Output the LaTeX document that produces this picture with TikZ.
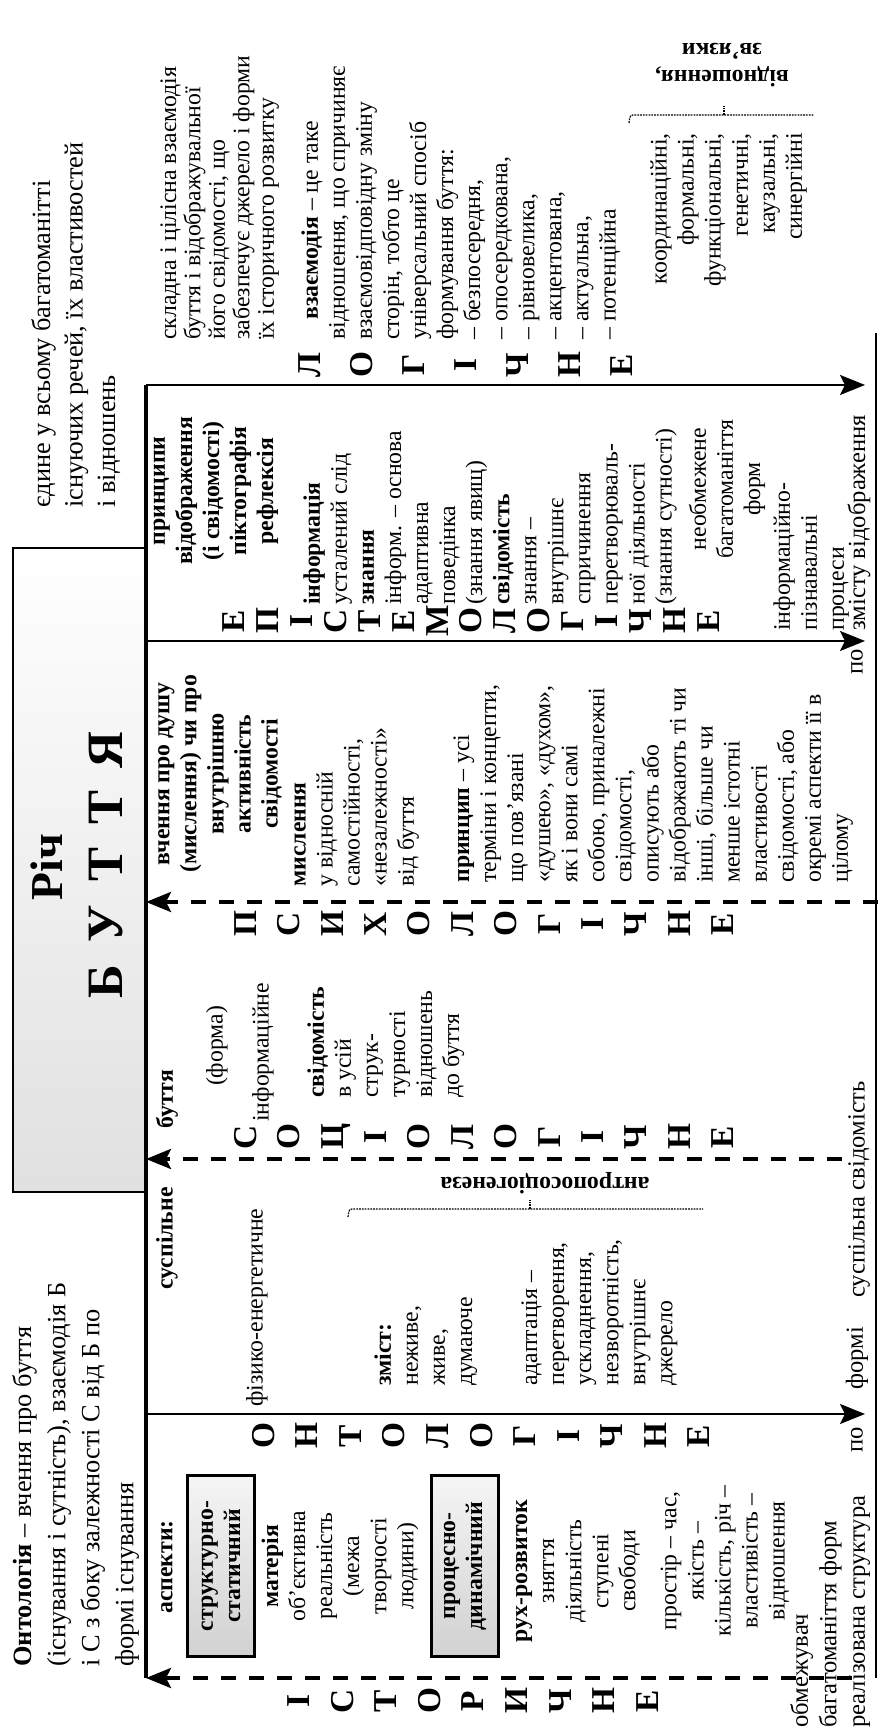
\documentclass[tikz,border=0pt]{standalone}
\usepackage{fontspec}
\setmainfont{Liberation Serif}
\usetikzlibrary{arrows.meta}
\begin{document}
\begin{tikzpicture}[x=0.2mm,y=-0.2mm,rotate=90,transform shape,>={Stealth[length=5mm,width=4mm,inset=1mm]},
tekst/.style={font=\fontsize{13.5}{15.4}\selectfont,inner sep=0pt,align=left},
ctekst/.style={tekst,align=center},
zhyrnyj/.style={tekst,font=\fontsize{13.5}{15.4}\selectfont\bfseries},
nyz/.style={font=\fontsize{14}{16.2}\selectfont,inner sep=0pt,align=left},
velykyj/.style={font=\fontsize{15}{19.4}\selectfont,inner sep=0pt,align=left},
bukvy/.style={font=\fontsize{19}{#1}\selectfont\bfseries,inner sep=0pt,align=center},
aspekt/.style={draw,line width=1.2pt,top color=black!4,bottom color=black!18,minimum width=36.2mm,minimum height=13.4mm,inner sep=1pt,align=center,font=\fontsize{13.5}{15.4}\selectfont\bfseries},
richbox/.style={draw,line width=1.6pt,top color=white,bottom color=black!12,minimum width=128.8mm,minimum height=26.6mm,inner sep=0pt},
punktyr/.style={line width=2.3pt,dash pattern=on 3mm off 2.6mm},
suc/.style={line width=1.2pt},
duga/.style={line width=0.7pt,dash pattern=on 1pt off 0.6pt}]
\useasboundingbox (0,0) rectangle (1729,878);
\node[velykyj,anchor=north west](ontologija) at (62,12){\textbf{Онтологія} – вчення про буття\\(існування і сутність), взаємодія Б\\і С з боку залежності С від Б по\\формі існування};
\node[richbox](rich) at (859,79.5){};
\node[font=\fontsize{26}{28}\selectfont\bfseries](richtxt) at (862,47){Річ};
\node[font=\fontsize{29}{31}\selectfont\bfseries](buttja) at (864,106){Б\hspace{0.45em}У\hspace{0.45em}Т\hspace{0.45em}Т\hspace{0.45em}Я};
\node[velykyj,anchor=north west,font=\fontsize{15}{18.5}\selectfont](jedyne) at (1221,31){єдине у всьому багатоманітті\\існуючих речей, їх властивостей\\і відношень};
\coordinate(d1t) at (51,146);
\coordinate(d1b) at (51,852);
\coordinate(s1t) at (315,146);
\coordinate(s1b) at (315,865);
\coordinate(d2t) at (570,146);
\coordinate(d2b) at (570,842);
\coordinate(d3t) at (827,146);
\coordinate(d3b) at (827,878);
\coordinate(s2t) at (1088,146);
\coordinate(s2b) at (1088,865);
\coordinate(s3t) at (1344,146);
\coordinate(s3b) at (1344,865);
\coordinate(niz1) at (51,876);
\coordinate(niz2) at (1396,876);
\node[bukvy=24.8pt](istorychne) at (28,473){І\\С\\Т\\О\\Р\\И\\Ч\\Н\\Е};
\node[bukvy=24.8pt](ontologichne) at (293,481){О\\Н\\Т\\О\\Л\\О\\Г\\І\\Ч\\Н\\Е};
\node[bukvy=24.7pt](sociologichne) at (592,484){С\\О\\Ц\\І\\О\\Л\\О\\Г\\І\\Ч\\Н\\Е};
\node[bukvy=24.7pt](psyhologichne) at (805,484){П\\С\\И\\Х\\О\\Л\\О\\Г\\І\\Ч\\Н\\Е};
\node[bukvy=19.3pt](epistemologichne) at (1108,471){Е\\П\\І\\С\\Т\\Е\\М\\О\\Л\\О\\Г\\І\\Ч\\Н\\Е};
\node[bukvy=29.6pt](logichne) at (1364,466){Л\\О\\Г\\І\\Ч\\Н\\Е};
\node[zhyrnyj](aspekty) at (162,167){аспекти:};
\node[aspekt](strukturno) at (163,221){структурно-\\статичний};
\node[ctekst](materija) at (163,340){\textbf{матерія}\\об’єктивна\\реальність\\(межа\\творчості\\людини)};
\node[aspekt](procesno) at (163,465){процесно-\\динамічний};
\node[ctekst](ruh) at (158,578){\textbf{рух-розвиток}\\зняття\\діяльність\\ступені\\свободи};
\node[ctekst](prostir) at (168,725){простір – час,\\якість –\\кількість, річ –\\властивість –\\відношення};
\node[nyz,anchor=north west](obmezhuvach) at (1,790){обмежувач\\багатоманіття форм\\реалізована структура};
\node[nyz](po1) at (289,857){по};
\node[nyz,anchor=west](formi) at (339,857){формі};
\node[nyz,anchor=west](suspsvid) at (431,859){суспільна свідомість};
\node[zhyrnyj,anchor=east](suspilne) at (542,167){суспільне};
\node[tekst,anchor=west](fizyko) at (322,257){фізико-енергетичне};
\node[tekst,anchor=north west](zmist) at (343,374){\textbf{зміст:}\\неживе,\\живе,\\думаюче};
\node[tekst,anchor=north west](adaptacija) at (343,521){адаптація –\\перетворення,\\ускладнення,\\незворотність,\\внутрішнє\\джерело};
\coordinate(duga1t) at (520,355);
\coordinate(duga1b) at (520,703);
\coordinate(duga1m) at (520,530);
\draw[duga] ([shift={(-8,-7)}]duga1t) .. controls ([shift={(0,-6)}]duga1t) .. (duga1t) -- (duga1b);
\draw[duga] (duga1m) -- ([shift={(9,0)}]duga1m);
\node[zhyrnyj,rotate=90](antropo) at (546,545){антропосоціогенеза};
\node[zhyrnyj,anchor=west](buttja2) at (600,167){буття};
\node[tekst](forma) at (683,217){(форма)};
\node[tekst,anchor=west](informacijne) at (607,263){інформаційне};
\node[tekst,anchor=north west](svidomist) at (631,307){\textbf{свідомість}\\в усій\\струк-\\турності\\відношень\\до буття};
\node[zhyrnyj,align=center](vchennja) at (955,220){вчення про душу\\(мислення) чи про\\внутрішню\\активність\\свідомості};
\node[tekst,anchor=north west](myslennja) at (842,294){\textbf{мислення}\\у відносній\\самостійності,\\«незалежності»\\від буття};
\node[tekst,anchor=north west](pryncyp) at (846,453){\textbf{принцип} – усі\\терміни і концепти,\\що пов’язані\\«душею», «духом»,\\як і вони самі\\собою, приналежні\\свідомості,\\описують або\\відображають ті чи\\інші, більше чи\\менше істотні\\властивості\\свідомості, або\\окремі аспекти її в\\цілому};
\node[zhyrnyj,align=center](pryncypy) at (1238,216){принципи\\відображення\\(і свідомості)\\піктографія\\рефлексія};
\node[tekst,anchor=north west](informacija) at (1124,303){\textbf{інформація}\\усталений слід\\\textbf{знання}\\інформ. – основа\\адаптивна\\поведінка\\(знання явищ)\\\textbf{свідомість}\\знання –\\внутрішнє\\спричинення\\перетворюваль-\\ної діяльності\\(знання сутності)};
\node[ctekst](neobmezhene) at (1240,727){необмежене\\багатоманіття\\форм};
\node[tekst,anchor=north west](piznavalni) at (1098,773){інформаційно-\\пізнавальні\\процеси};
\node[nyz](po2) at (1067,857){по};
\node[nyz,anchor=west](zmistu) at (1098,859){змісту відображення};
\node[tekst,anchor=north west,font=\fontsize{13.5}{13.9}\selectfont](skladna) at (1389,160){складна і цілісна взаємодія\\буття і відображувальної\\його свідомості, що\\забезпечує джерело і форми\\їх історичного розвитку};
\node[tekst,anchor=north west](vzajemodija) at (1389,301){\hspace*{4mm}\textbf{взаємодія} – це таке\\відношення, що спричиняє\\взаємовідповідну зміну\\сторін, тобто це\\універсальний спосіб\\формування буття:\\– безпосередня,\\– опосередкована,\\– рівновелика,\\– акцентована,\\– актуальна,\\– потенційна};
\node[tekst,anchor=north east,align=right](koordynacijni) at (1596,650){координаційні,\\формальні,\\функціональні,\\генетичні,\\каузальні,\\синергійні};
\coordinate(duga2t) at (1614,636);
\coordinate(duga2b) at (1614,814);
\coordinate(duga2m) at (1614,724);
\draw[duga] ([shift={(-8,-7)}]duga2t) .. controls ([shift={(0,-6)}]duga2t) .. (duga2t) -- (duga2b);
\draw[duga] (duga2m) -- ([shift={(9,0)}]duga2m);
\node[zhyrnyj,rotate=90,align=center](vidnoshennja) at (1664,722){відношення,\\зв’язки};
\begin{scope}[->]
 \draw[punktyr] (d1b)--(d1t);
 \draw[punktyr] (d2b)--(d2t);
 \draw[punktyr] (d3b)--(d3t);
 \draw[suc] (s1t)--(s1b);
 \draw[suc] (s2t)--(s2b);
 \draw[suc] (s3t)--(s3b);
\end{scope}
\draw[line width=1.8pt] (d1t)--(s3t);
\draw[suc] (niz1)--(niz2);
\end{tikzpicture}
\end{document}
